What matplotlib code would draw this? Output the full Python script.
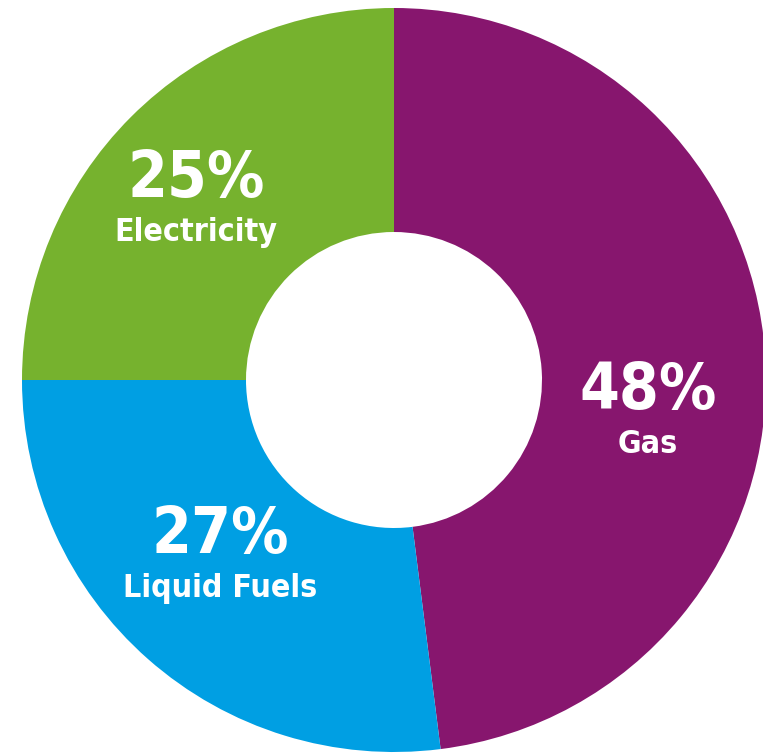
import matplotlib
matplotlib.use("Agg")
import matplotlib.pyplot as plt

labels = ["Gas", "Liquid Fuels", "Electricity"]
shares = [48, 27, 25]
colors = ["#87166E", "#009FE3", "#76B22E"]

W, H = 763, 753
fig = plt.figure(figsize=(W / 100, H / 100), dpi=100)
ax = fig.add_axes([0, 0, 1, 1])

cx, cy, r = 394, H - 380, 372
ax.pie(shares, colors=colors, startangle=90, counterclock=False,
       center=(cx, cy), radius=r, frame=True,
       wedgeprops=dict(width=r - 148, edgecolor="none", linewidth=0))
ax.set_xlim(0, W)
ax.set_ylim(0, H)
ax.set_aspect("equal")
ax.axis("off")

# label anchor points (pixel coords from top)
pos = {"Gas": (648, 391), "Liquid Fuels": (220, 535), "Electricity": (196, 179)}
for lab, s in zip(labels, shares):
    x, y = pos[lab]
    ax.text(x, H - y, f"{s}%", color="white", fontsize=46, fontweight="bold",
            family="DejaVu Sans", fontstretch="condensed",
            ha="center", va="center")
    ax.text(x, H - y - 53, lab, color="white", fontsize=23, fontweight="bold",
            family="DejaVu Sans", fontstretch="condensed",
            ha="center", va="center")

fig.savefig("out.png", dpi=100)
